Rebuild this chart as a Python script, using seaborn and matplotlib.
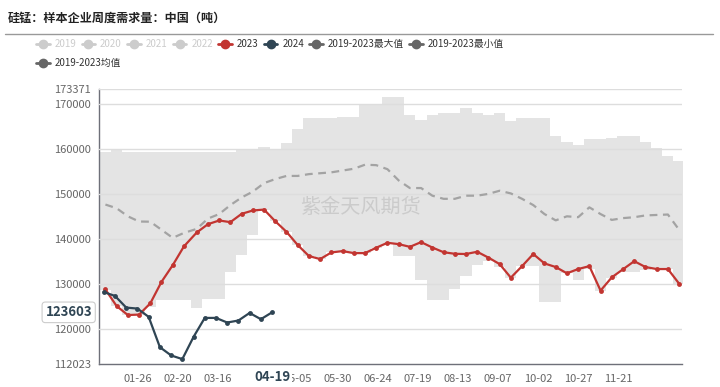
import numpy as np
import pandas as pd
import matplotlib
matplotlib.use("Agg")
import matplotlib.pyplot as plt
from matplotlib.lines import Line2D
import seaborn as sns

# weekly dates, every year drawn on one calendar (2024)
weeks_2023 = pd.date_range("2023-01-06", periods=52, freq="7D") + pd.DateOffset(years=1)
weeks_2024 = pd.date_range("2024-01-05", periods=16, freq="7D")

demand_2023 = [128700, 125000, 123000, 123100, 125600, 130400, 134100, 138300, 141400, 143250,
               144070, 143700, 145550, 146300, 146500, 143900, 141550, 138600, 136150, 135470,
               136950, 137250, 136800, 136800, 138000, 139100, 138800, 138200, 139250, 138050,
               137000, 136650, 136600, 137100, 135800, 134360, 131330, 133900, 136600, 134500,
               133700, 132300, 133250, 133900, 128450, 131400, 133200, 135000, 133700, 133250,
               133250, 130000]

demand_2024 = [128130, 127250, 124660, 124440, 122590, 115840, 114000, 113180, 118130, 122360,
               122360, 121330, 121780, 123470, 122070, 123603]

band_max = [159240, 159840, 159240, 159240, 159240, 159240, 159240, 159240, 159240, 159240,
            159240, 159240, 159780, 159780, 160510, 160000, 161250, 164440, 166800, 166800,
            166800, 167180, 167180, 169700, 169700, 171620, 171620, 167550, 166510, 167550,
            168000, 168000, 169030, 168000, 167550, 168000, 166290, 166800, 166800, 166800,
            162960, 161620, 160960, 162220, 162220, 162440, 162960, 162960, 161620, 160140,
            158510, 157400]

band_min = [128600, 125000, 123000, 123100, 124800, 126290, 126300, 126440, 124660, 126660,
            126660, 132580, 136290, 140890, 146500, 143900, 141470, 138600, 136150, 135470,
            136950, 137250, 136800, 136800, 138000, 138880, 136070, 136070, 130890, 126440,
            126440, 128890, 131620, 134070, 135000, 133690, 131330, 133900, 134000, 125930,
            125930, 132300, 130730, 133330, 128360, 131330, 132580, 132580, 133000, 133250,
            133250, 130000]

band_mean = [147620, 146800, 145000, 143840, 143800, 142000, 140200, 141300, 142200, 144500,
             145500, 147500, 149200, 150500, 152400, 153300, 154000, 154000, 154400, 154600,
             154800, 155200, 155600, 156500, 156400, 155500, 153000, 151300, 151300, 149600,
             148900, 148900, 149600, 149600, 150000, 150700, 150100, 148900, 147500, 145500,
             144100, 145000, 144800, 147000, 145500, 144200, 144600, 144800, 145200, 145300,
             145400, 142000]

tick_days = ["01-26", "02-20", "03-16", "04-10", "05-05", "05-30", "06-24", "07-19",
             "08-13", "09-07", "10-02", "10-27", "11-21"]
tick_labels = ["01-26", "02-20", "03-16", "", "05-05", "05-30", "06-24", "07-19",
               "08-13", "09-07", "10-02", "10-27", "11-21"]
y_ticks = [112023, 120000, 130000, 140000, 150000, 160000, 170000, 173371]

legend_names = ["2019", "2020", "2021", "2022", "2023", "2024",
                "2019-2023最大值", "2019-2023最小值"]
legend_colors = ["#cccccc", "#cccccc", "#cccccc", "#cccccc", "#c23531", "#2f4554",
                 "#666666", "#666666"]

RED = "#c23531"
DARK = "#2f4554"
AXIS = "#6e7079"

sns.set_theme(style="white")
plt.rcParams["font.family"] = ["Noto Sans CJK SC", "DejaVu Sans"]

fig = plt.figure(figsize=(7.2, 3.87), dpi=100)
ax = fig.add_axes([99 / 720, 1 - 364.3 / 387, 583.3 / 720, 275.3 / 387])

# min-max band as steps around each week
half = pd.Timedelta(days=3.5)
edges = list(weeks_2023 - half) + [weeks_2023[-1] + half]
lo = np.append(band_min, band_min[-1])
hi = np.append(band_max, band_max[-1])
ax.fill_between(edges, lo, hi, step="post", color="#e4e4e4", lw=0, zorder=1)

sns.lineplot(x=weeks_2023, y=band_mean, color="#a3a3a3", linewidth=1.6,
             linestyle=(0, (3.5, 2.5)), ax=ax, zorder=3)
sns.lineplot(x=weeks_2023, y=demand_2023, color=RED, linewidth=1.6, marker="o",
             markersize=3.5, markeredgewidth=0, ax=ax, zorder=4)
sns.lineplot(x=weeks_2024, y=demand_2024, color=DARK, linewidth=1.6, marker="o",
             markersize=3.5, markeredgewidth=0, ax=ax, zorder=5)

ax.set_xlim(pd.Timestamp("2024-01-02"), pd.Timestamp("2024-12-31"))
ax.set_ylim(y_ticks[0], y_ticks[-1])
ax.set_yticks(y_ticks)
ax.set_yticklabels([str(v) for v in y_ticks])
ax.set_xticks([pd.Timestamp("2024-" + d) for d in tick_days])
ax.set_xticklabels(tick_labels)
ax.set_xlabel("")
ax.set_ylabel("")

ax.set_axisbelow(False)
ax.grid(axis="y", color="#dddddd", linewidth=1)
ax.grid(axis="x", visible=False)
for side in ["top", "right"]:
    ax.spines[side].set_visible(False)
for side in ["left", "bottom"]:
    ax.spines[side].set_color(AXIS)
    ax.spines[side].set_linewidth(1)
ax.tick_params(axis="both", direction="out", length=3, width=1, color=AXIS,
               labelsize=8, labelcolor="#666666", pad=3)
ax.tick_params(axis="x", pad=4)

# axis pointer labels for the latest point
ax.text(weeks_2024[-1], -0.046, weeks_2024[-1].strftime("%m-%d"),
        transform=ax.get_xaxis_transform(), ha="center", va="center",
        fontsize=9.5, fontweight="bold", color=DARK, clip_on=False, zorder=10,
        bbox=dict(facecolor="white", edgecolor="none", pad=1.5))
ax.text(-0.012, demand_2024[-1], str(demand_2024[-1]),
        transform=ax.get_yaxis_transform(), ha="right", va="center",
        fontsize=9.5, fontweight="bold", color=DARK, clip_on=False, zorder=10,
        bbox=dict(boxstyle="round,pad=0.25", facecolor="white", edgecolor="#cccccc", lw=0.8))

# watermark
ax.text(0.448, 0.57, "紫金天风期货", transform=ax.transAxes, ha="center", va="center",
        fontsize=14.5, color="#cbcbcb", zorder=2)

# title and rule
fig.text(8 / 720, 1 - 18 / 387, "硅锰：样本企业周度需求量：中国（吨）", ha="left", va="center",
         fontsize=8.7, fontweight="bold", color="#222222")
fig.add_artist(Line2D([5 / 720, 713 / 720], [1 - 34 / 387] * 2, color="#999999", lw=1))

# legend
handles = [Line2D([0], [0], color=c, lw=2, marker="o", markersize=6) for c in legend_colors]
leg = fig.legend(handles, legend_names, loc="center left", bbox_to_anchor=(36 / 720, 1 - 44 / 387),
                 ncol=8, frameon=False, fontsize=7, handlelength=1.4, handletextpad=0.5,
                 columnspacing=0.55, borderpad=0, borderaxespad=0)
for t, c in zip(leg.get_texts(), legend_colors):
    t.set_color("#cccccc" if c == "#cccccc" else "#333333")

leg2 = fig.legend([Line2D([0], [0], color="#666666", lw=2, marker="o", markersize=6)],
                  ["2019-2023均值"], loc="center left", bbox_to_anchor=(36 / 720, 1 - 63 / 387),
                  frameon=False, fontsize=7, handlelength=1.4, handletextpad=0.5,
                  borderpad=0, borderaxespad=0)
leg2.get_texts()[0].set_color("#333333")

fig.savefig("out.png", dpi=100)
